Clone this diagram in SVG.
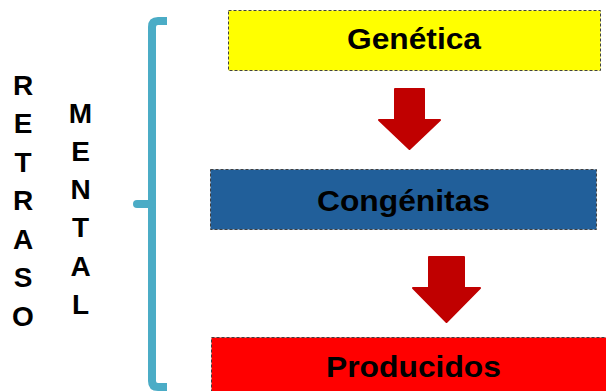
<svg xmlns="http://www.w3.org/2000/svg" width="606" height="391" viewBox="0 0 606 391">
<style>
.box{stroke:#404040;stroke-width:1;stroke-dasharray:3,2}
.lbl{font-family:"Liberation Sans",Arial,sans-serif;font-weight:bold;font-size:29px;fill:#000;text-anchor:middle}
.let{font-family:"Liberation Sans",Arial,sans-serif;font-weight:bold;font-size:28px;fill:#000;text-anchor:middle}
.arr{fill:#C00000;stroke:#C00000;stroke-width:2;stroke-linejoin:round}
</style>
<rect width="606" height="391" fill="#fff"/>
<g id="retraso">
<text class="let" x="23" y="95">R</text>
<text class="let" x="23" y="133">E</text>
<text class="let" x="23" y="172">T</text>
<text class="let" x="23" y="210">R</text>
<text class="let" x="23" y="249">A</text>
<text class="let" x="23" y="287">S</text>
<text class="let" x="23" y="326">O</text>
</g>
<g id="mental">
<text class="let" x="80.5" y="123">M</text>
<text class="let" x="80.5" y="161">E</text>
<text class="let" x="80.5" y="199">N</text>
<text class="let" x="80.5" y="237">T</text>
<text class="let" x="80.5" y="276">A</text>
<text class="let" x="80.5" y="314">L</text>
</g>
<g id="bracket" fill="none" stroke="#4BACC6" stroke-width="8">
<path d="M167,21 H158 Q152,21 152,27 V381 Q152,387 158,387 H167"/>
<path d="M152,204 H137" stroke-linecap="round"/>
</g>
<g id="genetica">
<rect class="box" x="228.5" y="10.5" width="372" height="60" fill="#FFFF00"/>
<text class="lbl" x="414" y="49" textLength="134" lengthAdjust="spacingAndGlyphs">Genética</text>
</g>
<g id="congenitas">
<rect class="box" x="210.5" y="169.5" width="386" height="60" fill="#215F9A"/>
<text class="lbl" x="403.5" y="210.5" textLength="173" lengthAdjust="spacingAndGlyphs">Congénitas</text>
</g>
<g id="producidos">
<rect class="box" x="211.5" y="337.5" width="400" height="60" fill="#FF0000"/>
<text class="lbl" x="413.5" y="377" textLength="175" lengthAdjust="spacingAndGlyphs">Producidos</text>
</g>
<g id="connectors">
<path class="arr" d="M395,89 H424 V120 H440 L409.5,149 L379,120 H395 Z"/>
<path class="arr" d="M429,257 H464 V288 H480 L446.5,322 L413,288 H429 Z"/>
</g>
</svg>
